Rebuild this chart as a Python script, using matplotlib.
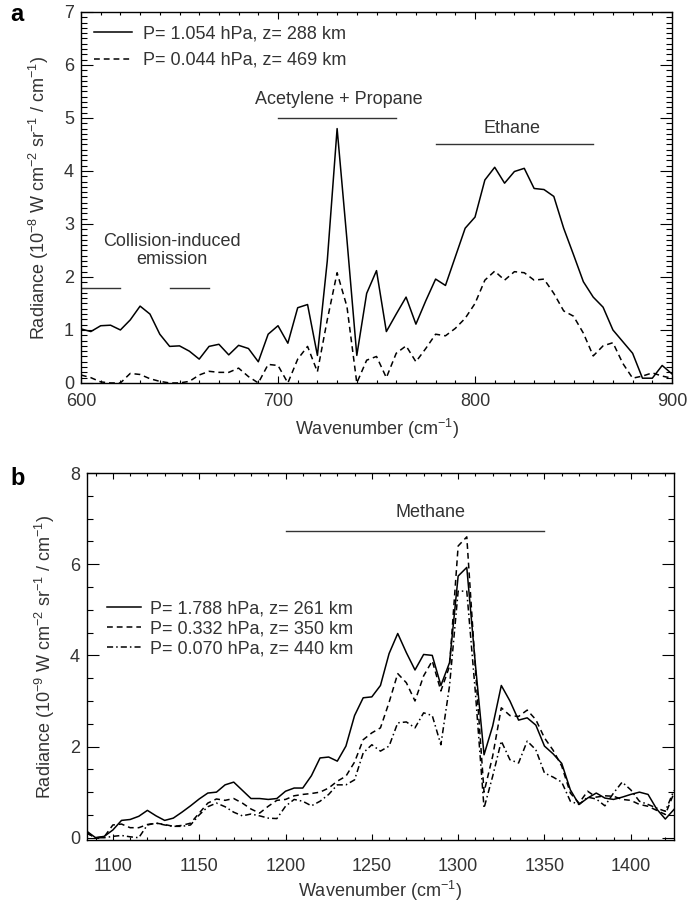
import numpy as np
import matplotlib
matplotlib.use("Agg")
import matplotlib.pyplot as plt
from matplotlib.ticker import MultipleLocator

plt.rcParams['font.family'] = ['Liberation Sans', 'DejaVu Sans']
plt.rcParams['mathtext.default'] = 'regular'
plt.rcParams['font.size'] = 13

TXT = '#333333'

# panel a: thermal emission spectra, 600-900 cm-1
wn_a = np.arange(600, 901, 5)
rad_a_low = [1.02, 0.97, 1.08, 1.09, 1.00, 1.19, 1.45, 1.30, 0.92, 0.69,
             0.70, 0.60, 0.45, 0.69, 0.73, 0.53, 0.71, 0.65, 0.40, 0.92,
             1.08, 0.75, 1.42, 1.48, 0.52, 2.30, 4.80, 2.70, 0.52, 1.69,
             2.12, 0.97, 1.30, 1.62, 1.11, 1.55, 1.96, 1.84, 2.38, 2.92,
             3.13, 3.83, 4.07, 3.77, 3.99, 4.05, 3.67, 3.65, 3.52, 2.92,
             2.42, 1.91, 1.62, 1.43, 1.00, 0.78, 0.56, 0.09, 0.09, 0.33,
             0.17]
rad_a_high = [0.15, 0.10, 0.02, 0.00, 0.00, 0.18, 0.16, 0.08, 0.03, 0.00,
              0.00, 0.03, 0.15, 0.22, 0.20, 0.20, 0.28, 0.12, 0.00, 0.35,
              0.33, 0.00, 0.45, 0.69, 0.21, 1.19, 2.08, 1.44, 0.00, 0.43,
              0.50, 0.10, 0.56, 0.70, 0.40, 0.65, 0.92, 0.89, 1.03, 1.22,
              1.50, 1.94, 2.11, 1.94, 2.10, 2.08, 1.94, 1.96, 1.69, 1.36,
              1.26, 0.94, 0.51, 0.70, 0.76, 0.37, 0.09, 0.13, 0.19, 0.13,
              0.09]
labels_a = ['P= 1.054 hPa, z= 288 km', 'P= 0.044 hPa, z= 469 km']

# band markers for panel a: (text, x text, y text, x start, x end, y bar)
bands_a = [
    ('Acetylene + Propane', 731, 5.34, 700, 760, 5.0),
    ('Ethane', 819, 4.80, 780, 860, 4.5),
]
cia_text = 'Collision-induced\nemission'
cia_pos = (646, 2.5)
cia_bars = [(600, 620), (645, 665)]
cia_level = 1.8

# panel b: methane band, 1085-1425 cm-1
wn_b = np.arange(1085, 1426, 5)
rad_b_1 = [0.14, 0.00, 0.03, 0.17, 0.38, 0.40, 0.47, 0.60, 0.48, 0.38,
           0.43, 0.56, 0.70, 0.85, 0.98, 1.00, 1.16, 1.22, 1.04, 0.86,
           0.86, 0.84, 0.86, 1.02, 1.09, 1.09, 1.36, 1.75, 1.77, 1.68,
           2.01, 2.68, 3.07, 3.09, 3.34, 4.04, 4.48, 4.06, 3.68, 4.02,
           4.00, 3.34, 3.84, 5.74, 5.93, 3.80, 1.82, 2.45, 3.34, 3.00,
           2.58, 2.63, 2.47, 2.01, 1.84, 1.63, 1.05, 0.73, 0.87, 0.98,
           0.87, 0.84, 0.89, 0.95, 1.00, 0.95, 0.63, 0.41, 0.62]
rad_b_2 = [0.10, 0.00, 0.02, 0.28, 0.30, 0.22, 0.22, 0.29, 0.32, 0.29,
           0.25, 0.27, 0.32, 0.54, 0.76, 0.85, 0.82, 0.86, 0.76, 0.63,
           0.54, 0.69, 0.82, 0.84, 0.92, 0.95, 0.97, 1.00, 1.09, 1.24,
           1.35, 1.66, 2.15, 2.30, 2.41, 2.97, 3.60, 3.40, 3.00, 3.55,
           3.88, 3.22, 3.76, 6.40, 6.60, 3.70, 1.00, 1.79, 2.85, 2.68,
           2.66, 2.80, 2.59, 2.19, 1.92, 1.57, 0.98, 0.76, 1.02, 0.89,
           0.92, 0.91, 0.84, 0.82, 0.73, 0.69, 0.60, 0.51, 0.98]
rad_b_3 = [0.10, 0.00, 0.00, 0.03, 0.05, 0.02, 0.00, 0.28, 0.32, 0.28,
           0.25, 0.25, 0.28, 0.50, 0.68, 0.76, 0.68, 0.56, 0.48, 0.52,
           0.48, 0.43, 0.42, 0.69, 0.84, 0.80, 0.70, 0.80, 0.95, 1.16,
           1.16, 1.27, 1.86, 2.04, 1.90, 2.01, 2.52, 2.54, 2.41, 2.74,
           2.68, 2.04, 3.33, 5.41, 5.41, 3.18, 0.65, 1.35, 2.12, 1.71,
           1.64, 2.12, 1.93, 1.42, 1.33, 1.22, 0.80, 0.73, 0.89, 0.85,
           0.70, 0.98, 1.22, 1.05, 0.80, 0.73, 0.65, 0.58, 1.04]
labels_b = ['P= 1.788 hPa, z= 261 km', 'P= 0.332 hPa, z= 350 km',
            'P= 0.070 hPa, z= 440 km']
band_b = ('Methane', 1284, 7.14, 1200, 1350, 6.72)

dashed = (0, (3.8, 2.6))
dashdot = (0, (4, 2, 1, 2))


def style_axes(ax, ylen, xlen, xpad):
    for s in ax.spines.values():
        s.set_linewidth(1.0)
    ax.tick_params(which='both', direction='in', top=True, right=True,
                   colors='black', labelcolor=TXT, labelsize=13, width=0.8)
    ax.tick_params(axis='y', which='major', length=ylen[0], pad=5)
    ax.tick_params(axis='y', which='minor', length=ylen[1])
    ax.tick_params(axis='x', which='major', length=xlen[0], pad=xpad)
    ax.tick_params(axis='x', which='minor', length=xlen[1])


fig = plt.figure(figsize=(6.87, 9.09), dpi=100)

# ---- panel a
ax1 = fig.add_axes([0.1179, 0.5787, 0.8603, 0.4081])
ax1.plot(wn_a, rad_a_low, color='black', lw=1.1, label=labels_a[0])
ax1.plot(wn_a, rad_a_high, color='black', lw=1.1, ls=dashed, label=labels_a[1])
ax1.set_xlim(600, 900)
ax1.set_ylim(0, 7)
ax1.xaxis.set_major_locator(MultipleLocator(100))
ax1.xaxis.set_minor_locator(MultipleLocator(10))
ax1.yaxis.set_major_locator(MultipleLocator(1))
ax1.yaxis.set_minor_locator(MultipleLocator(0.1))
style_axes(ax1, (8.4, 4.1), (5.0, 2.5), 7)
ax1.set_xlabel('Wavenumber (cm$^{-1}$)', color=TXT, fontsize=13, labelpad=5)
ax1.set_ylabel('Radiance (10$^{-8}$ W cm$^{-2}$ sr$^{-1}$ / cm$^{-1}$)',
               color=TXT, fontsize=13, labelpad=9)
for name, tx, ty, x0, x1, yb in bands_a:
    ax1.text(tx, ty, name, ha='center', va='center', color=TXT, fontsize=13)
    ax1.plot([x0, x1], [yb, yb], color='#333333', lw=1.0)
ax1.text(cia_pos[0], cia_pos[1], cia_text, ha='center', va='center',
         color=TXT, fontsize=13, linespacing=1.1)
for x0, x1 in cia_bars:
    ax1.plot([x0, x1], [cia_level, cia_level], color='#333333', lw=1.0)
leg1 = ax1.legend(loc='upper left', bbox_to_anchor=(0.010, 0.983), frameon=False,
                  handlelength=2.1, handletextpad=0.6, labelspacing=0.52,
                  borderpad=0, borderaxespad=0.4, fontsize=13)
for t in leg1.get_texts():
    t.set_color(TXT)
fig.text(0.015, 0.984, 'a', fontsize=17, fontweight='bold', va='center')

# ---- panel b
ax2 = fig.add_axes([0.1266, 0.0759, 0.8544, 0.4037])
ax2.plot(wn_b, rad_b_1, color='black', lw=1.1, label=labels_b[0])
ax2.plot(wn_b, rad_b_2, color='black', lw=1.1, ls=dashed, label=labels_b[1])
ax2.plot(wn_b, rad_b_3, color='black', lw=1.1, ls=dashdot, label=labels_b[2])
ax2.set_xlim(1085, 1425)
ax2.set_ylim(-0.05, 8)
ax2.xaxis.set_major_locator(MultipleLocator(50))
ax2.xaxis.set_minor_locator(MultipleLocator(10))
ax2.yaxis.set_major_locator(MultipleLocator(2))
ax2.yaxis.set_minor_locator(MultipleLocator(0.5))
style_axes(ax2, (8.4, 4.1), (4.3, 2.2), 13)
ax2.set_xlabel('Wavenumber (cm$^{-1}$)', color=TXT, fontsize=13, labelpad=3)
ax2.set_ylabel('Radiance (10$^{-9}$ W cm$^{-2}$ sr$^{-1}$ / cm$^{-1}$)',
               color=TXT, fontsize=13, labelpad=9)
name, tx, ty, x0, x1, yb = band_b
ax2.text(tx, ty, name, ha='center', va='center', color=TXT, fontsize=13)
ax2.plot([x0, x1], [yb, yb], color='#333333', lw=1.0)
leg2 = ax2.legend(loc='upper left', bbox_to_anchor=(0.021, 0.672), frameon=False,
                  handlelength=1.9, handletextpad=0.5, labelspacing=0.15,
                  borderpad=0, borderaxespad=0.4, fontsize=13)
for t in leg2.get_texts():
    t.set_color(TXT)
fig.text(0.015, 0.474, 'b', fontsize=17, fontweight='bold', va='center')

fig.savefig('out.png', dpi=100)
